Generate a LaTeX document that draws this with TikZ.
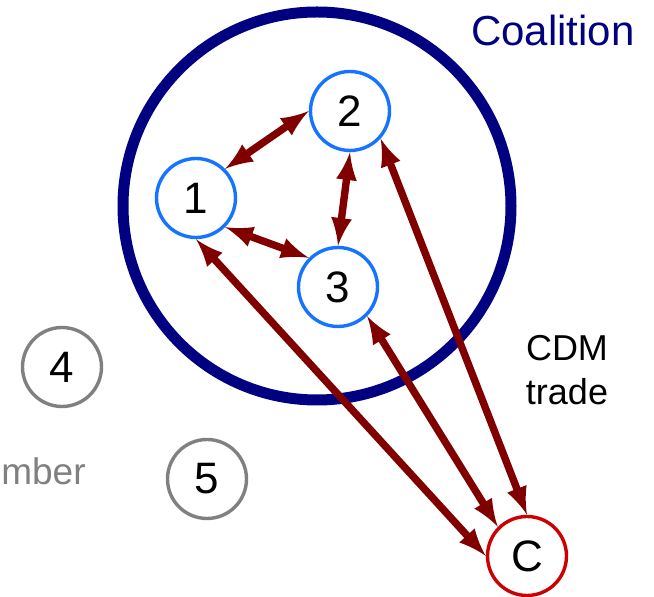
\documentclass[tikz,border=0pt]{standalone}
\usepackage{fontspec}
\setmainfont{Liberation Sans}
\usepackage{tikz}
\usetikzlibrary{arrows}
\definecolor{navy}{RGB}{0,0,128}
\definecolor{member}{RGB}{20,115,255}
\definecolor{tradered}{RGB}{128,0,0}
\definecolor{cred}{RGB}{204,0,0}

\begin{document}
\begin{tikzpicture}[x=0.5pt,y=-0.5pt,
 item/.style={circle,draw,line width=1.7pt,minimum size=39.5pt,inner sep=0pt,font=\fontsize{22}{26}\selectfont},
 trade/.style={draw=tradered,line width=3.7pt,latex-latex}]
 \useasboundingbox (0,0) rectangle (654,597);
 \node[circle,draw=navy,line width=5.5pt,minimum size=194pt,inner sep=0pt] (coal) at (317,206) {};
 \node[text=navy,font=\fontsize{21}{25}\selectfont] (coalname) at (553,30) {Coalition};

 \node[item,draw=member] (n1) at (196,198) {1};
 \node[item,draw=member] (n2) at (350,111) {2};
 \node[item,draw=member] (n3) at (338,287) {3};
 \node[item,draw=gray] (n4) at (62,367) {4};
 \node[item,draw=gray] (n5) at (207,479) {5};
 \node[item,draw=cred] (c) at (527,556) {C};

 \draw[trade] (n1.north east) -- (n2.west);
 \draw[trade] (n2.south) -- (n3.north);
 \draw[trade] (n1.south east) -- (n3.north west);
 \draw[trade] (n1.south) -- (c.west);
 \draw[trade] (n3.south east) -- (c.north west);
 \draw[trade] (n2.-42) -- (c.north);

 \node[align=center,font=\fontsize{18}{22}\selectfont] (cdm) at (567,370) {CDM\\trade};
 \node[text=gray,anchor=base east,inner sep=0pt,font=\fontsize{18.5}{22}\selectfont] (nonmem) at (86,485) {mber};
\end{tikzpicture}
\end{document}
